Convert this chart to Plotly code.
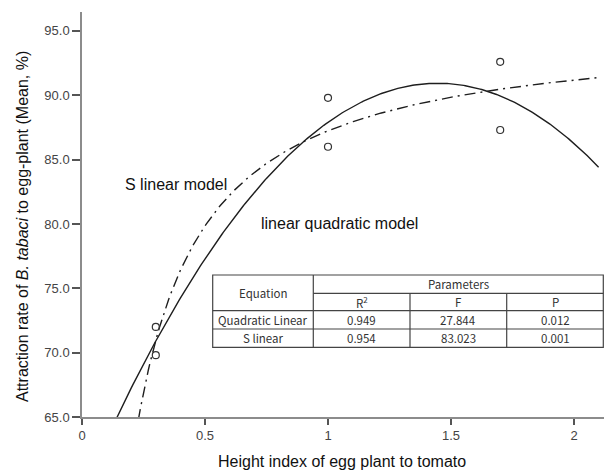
import numpy as np
import plotly.graph_objects as go

# ---- data ----
height_index = [0.3, 0.3, 1.0, 1.0, 1.7, 1.7]
attraction = [72.0, 69.8, 89.8, 86.0, 92.6, 87.3]

x_ticks = [0, 0.5, 1, 1.5, 2]
x_tick_labels = ["0", "0.5", "1", "1.5", "2"]
y_ticks = [65, 70, 75, 80, 85, 90, 95]
y_tick_labels = ["65.0", "70.0", "75.0", "80.0", "85.0", "90.0", "95.0"]

table_header = ["Equation", "Parameters"]
table_params = ["R<sup>2</sup>", "F", "P"]
table_models = ["Quadratic Linear", "S linear"]
table_r2 = ["0.949", "0.954"]
table_f = ["27.844", "83.023"]
table_p = ["0.012", "0.001"]

# ---- curve fits (quadratic and SPSS "S" model: ln y = b0 + b1/x) ----
xd = np.array(height_index)
yd = np.array(attraction)
quad = np.polyfit(xd, yd, 2)
s_b1, s_b0 = np.polyfit(1.0 / xd, np.log(yd), 1)
xq = np.linspace(0.1, 2.1, 300)
yq = np.polyval(quad, xq)
xs = np.linspace(0.2, 2.1, 300)
ys = np.exp(s_b0 + s_b1 / xs)

W, H = 605, 471
L, R, T, B = 82, 1, 12, 54
PW, PH = W - L - R, H - T - B
XMAX = PW / 246.0
YPX = 12.87
YMAX = 65 + PH / YPX


def px(x):
    return (x - L) / PW


def py(y):
    return (H - B - y) / PH


fig = go.Figure()
fig.add_trace(go.Scatter(x=xq, y=yq, mode="lines",
                         line=dict(color="#1e1e1e", width=1.4), hoverinfo="skip"))
fig.add_trace(go.Scatter(x=xs, y=ys, mode="lines",
                         line=dict(color="#1e1e1e", width=1.4, dash="11px,5px,2px,5px"),
                         hoverinfo="skip"))
fig.add_trace(go.Scatter(x=height_index, y=attraction, mode="markers",
                         marker=dict(symbol="circle-open", size=7,
                                     color="#333333", line=dict(width=1.2)),
                         cliponaxis=False))

axis_common = dict(showgrid=False, zeroline=False, showline=True,
                   linecolor="#8c8c8c", linewidth=1.5, ticks="outside",
                   tickcolor="#555555", tickwidth=1.5,
                   tickfont=dict(family="Liberation Sans, Arial", size=13, color="#444444"))
fig.update_xaxes(range=[0, XMAX], tickvals=x_ticks, ticktext=x_tick_labels,
                 ticklen=6, **axis_common)
fig.update_yaxes(range=[65, YMAX], tickvals=y_ticks, ticktext=y_tick_labels,
                 ticklen=8, ticklabelstandoff=0, **axis_common)

shapes = []
lc = dict(color="#444444", width=1.2)
xl, x1, x2, x3, xr = 212.7, 313.3, 410.0, 506.7, 603.3
yt, y1, y2, y3, yb = 275.0, 293.3, 310.7, 329.0, 347.3
shapes.append(dict(type="rect", xref="paper", yref="paper", x0=px(xl), x1=px(xr),
                   y0=py(yb), y1=py(yt), line=lc, fillcolor="white", layer="above"))
for (a, b, c, d) in [(x1, y1, xr, y1), (xl, y2, xr, y2), (xl, y3, xr, y3),
                     (x1, yt, x1, yb), (x2, y1, x2, yb), (x3, y1, x3, yb)]:
    shapes.append(dict(type="line", xref="paper", yref="paper", x0=px(a), y0=py(b),
                       x1=px(c), y1=py(d), line=lc, layer="above"))

annotations = []
tf = dict(family="Noto Sans CJK KR, Noto Sans", size=11.5, color="#333333")


def cell(text, cx, cy):
    annotations.append(dict(text=text, x=px(cx), y=py(cy), xref="paper", yref="paper",
                            showarrow=False, xanchor="center", yanchor="middle", font=tf))


cell(table_header[0], (xl + x1) / 2, (yt + y2) / 2)
cell(table_header[1], (x1 + xr) / 2, (yt + y1) / 2)
cols = [(x1 + x2) / 2, (x2 + x3) / 2, (x3 + xr) / 2]
for i, t in enumerate(table_params):
    cell(t, cols[i], (y1 + y2) / 2)
rows = [(y2 + y3) / 2, (y3 + yb) / 2]
for i in range(len(table_models)):
    cell(table_models[i], (xl + x1) / 2, rows[i])
    cell(table_r2[i], cols[0], rows[i])
    cell(table_f[i], cols[1], rows[i])
    cell(table_p[i], cols[2], rows[i])

lf = dict(family="Liberation Sans, Arial", size=16, color="#111111")
annotations.append(dict(text="S linear model", x=px(123), y=py(184), xref="paper",
                        yref="paper", showarrow=False, xanchor="left", yanchor="middle", font=lf))
annotations.append(dict(text="linear quadratic model", x=px(259), y=py(223), xref="paper",
                        yref="paper", showarrow=False, xanchor="left", yanchor="middle", font=lf))
annotations.append(dict(text="Height index of egg plant to tomato", x=px(342), y=py(461),
                        xref="paper", yref="paper", showarrow=False, xanchor="center",
                        yanchor="middle", font=lf))
annotations.append(dict(text="Attraction rate of <i>B. tabaci</i> to egg-plant (Mean, %)",
                        x=px(22), y=py(227), xref="paper", yref="paper", showarrow=False,
                        xanchor="center", yanchor="middle", textangle=-90, font=lf))

fig.update_layout(width=W, height=H, margin=dict(l=L, r=R, t=T, b=B, pad=0),
                  paper_bgcolor="white", plot_bgcolor="white", showlegend=False,
                  shapes=shapes, annotations=annotations)

fig.write_html("out.html")
